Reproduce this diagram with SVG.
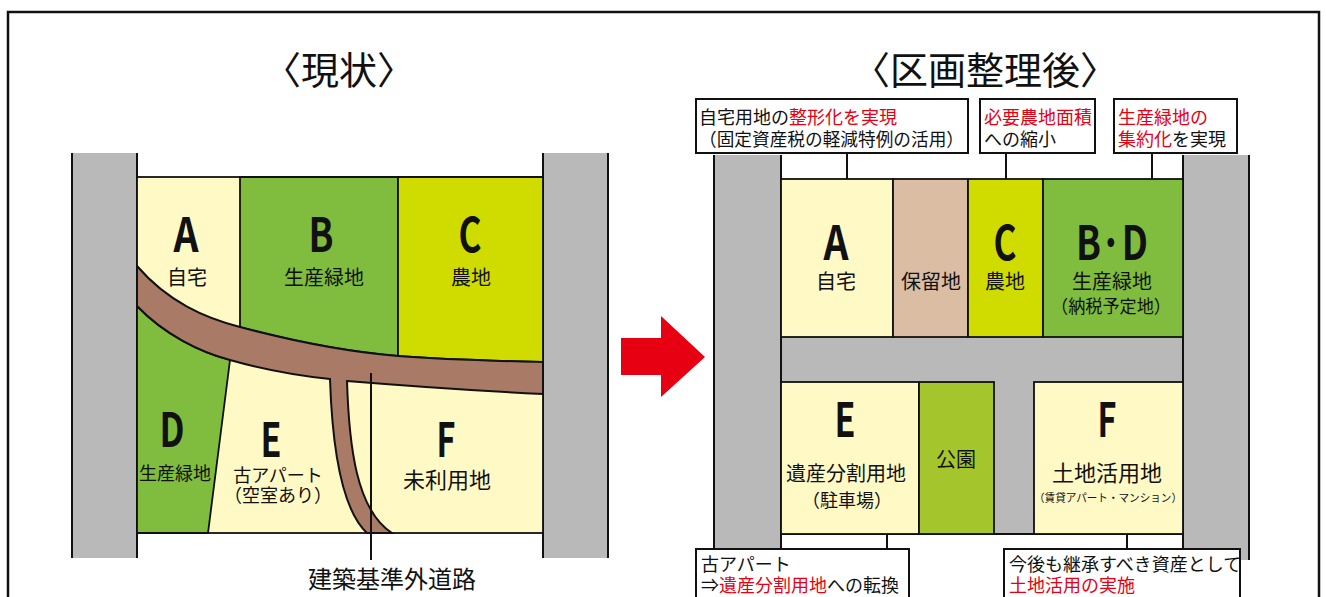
<svg xmlns="http://www.w3.org/2000/svg" width="1326" height="597" viewBox="0 0 1326 597">
<style>
.jp{font-family:"Noto Sans CJK JP","Noto Sans",sans-serif;fill:#111;}
.t{font-size:38px;text-anchor:middle;}
.lab{font-size:20px;text-anchor:middle;}
.sm{font-size:18px;}
.big{font-family:"Noto Sans CJK JP","DejaVu Sans",sans-serif;font-weight:bold;font-size:47px;text-anchor:middle;fill:#111;}
.red{fill:#e60012;}
.gray{fill:#b9b9b9;}
.edge{stroke:#111;stroke-width:2;fill:none;}
.tile{stroke:#111;stroke-width:1.8;}
.cream{fill:#fff9c6;}
.green{fill:#80bc3e;}
.lime{fill:#d0dc00;}
.tan{fill:#dbbda3;}
.park{fill:#a4c62c;}
.road{fill:#a97a66;stroke:#111;stroke-width:2;}
.box{fill:#fff;stroke:#111;stroke-width:2;}
.lead{stroke:#111;stroke-width:2;fill:none;}
</style>

<rect x="8" y="12" width="1311" height="600" fill="#fff" stroke="#111" stroke-width="2.5"/>

<g id="title-current"><text class="jp t" x="339" y="84">〈現状〉</text></g>
<g id="title-after"><text class="jp t" x="985" y="84">〈区画整理後〉</text></g>

<!-- LEFT DIAGRAM -->
<g id="left-roads">
  <rect class="gray" x="72" y="153" width="65" height="405"/>
  <rect class="gray" x="543" y="153" width="65" height="405"/>
  <path class="edge" d="M72,153V558M137,153V558M543,153V558M608,153V558"/>
</g>
<g id="left-base"><rect class="cream tile" x="137" y="177" width="406" height="356"/></g>
<g id="lot-B"><path class="green tile" d="M240,177L398,177L398,356C350,352 300,343 240,327Z"/></g>
<g id="lot-C"><path class="lime tile" d="M398,177L543,177L543,362C500,361 450,360 398,356Z"/></g>
<g id="lot-D"><path class="green tile" d="M137,306C165,335 200,352 230,360L208,533L137,533Z"/></g>
<g id="private-road"><path class="road" d="M137,266C168,302 205,318 240,327C300,343 350,352 398,356C450,360 500,361 543,362L543,394C480,391 420,387 347,381C349,445 356,510 392,533L367,533C340,508 332,440 330,379C300,376 265,370 230,360C200,352 165,335 137,306Z"/></g>

<g id="lot-A-label"><text class="big" x="186" y="252" textLength="25" lengthAdjust="spacingAndGlyphs">A</text><text class="jp lab" x="187" y="285">自宅</text></g>
<g id="lot-B-label"><text class="big" x="321" y="252" textLength="25" lengthAdjust="spacingAndGlyphs">B</text><text class="jp lab" x="324" y="285">生産緑地</text></g>
<g id="lot-C-label"><text class="big" x="470" y="252" textLength="23" lengthAdjust="spacingAndGlyphs">C</text><text class="jp lab" x="471" y="285">農地</text></g>
<g id="lot-D-label"><text class="big" x="172" y="447" textLength="25" lengthAdjust="spacingAndGlyphs">D</text><text class="jp sm" x="175" y="480" text-anchor="middle">生産緑地</text></g>
<g id="lot-E-label"><text class="big" x="271" y="457" textLength="21" lengthAdjust="spacingAndGlyphs">E</text><text class="jp" font-size="18" text-anchor="middle" x="278" y="482">古アパート</text><text class="jp" font-size="18" text-anchor="middle" x="278" y="502">（空室あり）</text></g>
<g id="lot-F-label"><text class="big" x="446" y="457" textLength="19" lengthAdjust="spacingAndGlyphs">F</text><text class="jp" font-size="22" text-anchor="middle" x="447" y="488">未利用地</text></g>

<g id="connectors">
  <path class="lead" d="M371,373V560"/>
  <path class="lead" d="M847,153V195M1006,153V195M1152,153V195"/>
  <path class="lead" d="M887,513V549M1127,513V549"/>
</g>
<g id="road-label"><text class="jp" font-size="24" text-anchor="middle" x="392" y="588">建築基準外道路</text></g>

<g id="arrow"><polygon fill="#e60012" points="621,338 661,338 661,316 705,357 661,397 661,375 621,375"/></g>

<!-- RIGHT DIAGRAM -->
<g id="right-roads">
  <rect class="gray" x="714" y="155" width="67" height="405"/>
  <rect class="gray" x="1183" y="155" width="66" height="405"/>
  <rect class="gray" x="781" y="337" width="402" height="45"/>
  <rect class="gray" x="994" y="382" width="40" height="152"/>
  <path class="edge" d="M714,155V560M781,155V560M1183,155V560M1249,155V560M781,534H1183"/>
</g>
<g id="new-A"><rect class="cream tile" x="781" y="179" width="112" height="158"/><text class="big" x="836" y="260" textLength="25" lengthAdjust="spacingAndGlyphs">A</text><text class="jp lab" x="836" y="289">自宅</text></g>
<g id="new-reserve"><rect class="tan tile" x="893" y="179" width="75" height="158"/><text class="jp lab" x="931" y="289">保留地</text></g>
<g id="new-C"><rect class="lime tile" x="968" y="179" width="75" height="158"/><text class="big" x="1005" y="260" textLength="23" lengthAdjust="spacingAndGlyphs">C</text><text class="jp lab" x="1005" y="289">農地</text></g>
<g id="new-BD"><rect class="green tile" x="1043" y="179" width="140" height="158"/><text class="big" x="1112" y="260" textLength="72" lengthAdjust="spacingAndGlyphs">B·D</text><text class="jp lab" x="1112" y="289">生産緑地</text><text class="jp sm" x="1111" y="313" text-anchor="middle" textLength="120" lengthAdjust="spacingAndGlyphs">（納税予定地）</text></g>
<g id="new-E"><rect class="cream tile" x="781" y="382" width="138" height="152"/><text class="big" x="845" y="437" textLength="21" lengthAdjust="spacingAndGlyphs">E</text><text class="jp lab" x="846" y="481">遺産分割用地</text><text class="jp sm" x="847" y="507" text-anchor="middle">（駐車場）</text></g>
<g id="new-park"><rect class="park tile" x="919" y="382" width="75" height="152"/><text class="jp lab" x="956" y="467">公園</text></g>
<g id="new-F"><rect class="cream tile" x="1034" y="382" width="149" height="152"/><text class="big" x="1107" y="437" textLength="19" lengthAdjust="spacingAndGlyphs">F</text><text class="jp" font-size="22" text-anchor="middle" x="1107" y="481">土地活用地</text><text class="jp" font-size="11" text-anchor="middle" x="1108" y="502" textLength="148" lengthAdjust="spacingAndGlyphs">（賃貸アパート・マンション）</text></g>

<g id="note-A"><rect class="box" x="696" y="99" width="272" height="54"/><text class="jp sm" x="699" y="124">自宅用地の<tspan class="red">整形化を実現</tspan></text><text class="jp sm" x="699" y="146" textLength="265" lengthAdjust="spacingAndGlyphs">（固定資産税の軽減特例の活用）</text></g>
<g id="note-C"><rect class="box" x="980" y="99" width="115" height="54"/><text class="jp sm" x="984" y="124"><tspan class="red">必要農地面積</tspan></text><text class="jp sm" x="984" y="146">への縮小</text></g>
<g id="note-BD"><rect class="box" x="1114" y="99" width="123" height="54"/><text class="jp sm" x="1118" y="124"><tspan class="red">生産緑地の</tspan></text><text class="jp sm" x="1118" y="146"><tspan class="red">集約化</tspan>を実現</text></g>
<g id="note-E"><rect class="box" x="696" y="549" width="213" height="60"/><text class="jp sm" x="701" y="571">古アパート</text><text class="jp sm" x="701" y="592">⇒<tspan class="red">遺産分割用地</tspan>への転換</text></g>
<g id="note-F"><rect class="box" x="1004" y="549" width="236" height="60"/><text class="jp sm" x="1009" y="571">今後も継承すべき資産として</text><text class="jp sm" x="1009" y="592"><tspan class="red">土地活用の実施</tspan></text></g>
</svg>
